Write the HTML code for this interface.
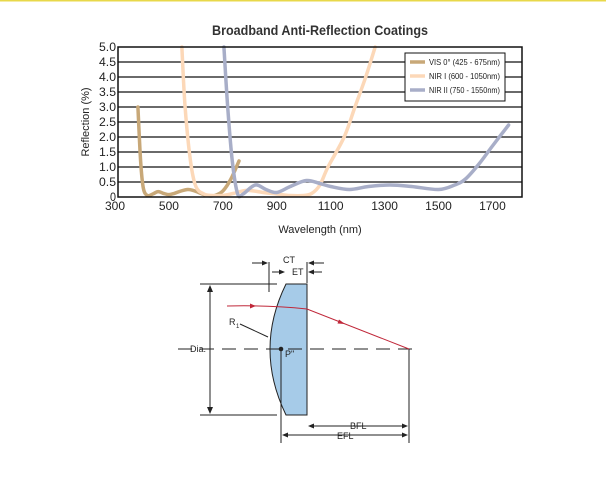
<!DOCTYPE html>
<html><head><meta charset="utf-8"><style>
html,body{margin:0;padding:0;background:#fff;width:606px;height:479px;overflow:hidden}
svg{display:block}
text{font-family:"Liberation Sans",sans-serif}
</style></head><body>
<svg id="s" width="606" height="479" viewBox="0 0 606 479" xmlns="http://www.w3.org/2000/svg">
<rect x="0" y="0" width="606" height="1.5" fill="#e8d84a"/>
<text x="212" y="35" font-size="14" font-weight="bold" fill="#333" textLength="216" lengthAdjust="spacingAndGlyphs">Broadband Anti-Reflection Coatings</text>
<g id="grid" stroke="#111" stroke-width="1.3"></g>
<g id="curves" fill="none" stroke-width="3.5" stroke-linejoin="round" stroke-linecap="round"></g>
<rect x="118" y="47" width="404" height="150" fill="none" stroke="#111" stroke-width="1.5"/>
<g id="ylab" font-size="12" fill="#222" text-anchor="end"></g>
<g id="xlab" font-size="12" fill="#222" text-anchor="middle"></g>
<text x="320" y="233" text-anchor="middle" font-size="11" fill="#222">Wavelength (nm)</text>
<text transform="translate(89,122) rotate(-90)" text-anchor="middle" font-size="11" fill="#222">Reflection (%)</text>
<rect x="405" y="53" width="100" height="48" fill="#fff" stroke="#111" stroke-width="1"/>
<line x1="410" y1="62" x2="425" y2="62" stroke="#c8a878" stroke-width="3.5"/>
<line x1="410" y1="76" x2="425" y2="76" stroke="#fcd8b8" stroke-width="3.5"/>
<line x1="410" y1="90" x2="425" y2="90" stroke="#a8aec8" stroke-width="3.5"/>
<g font-size="8.5" fill="#222"><text x="429" y="65" textLength="71" lengthAdjust="spacingAndGlyphs">VIS 0° (425 - 675nm)</text><text x="429" y="79" textLength="71" lengthAdjust="spacingAndGlyphs">NIR I (600 - 1050nm)</text><text x="429" y="93" textLength="71" lengthAdjust="spacingAndGlyphs">NIR II (750 - 1550nm)</text></g>

<path d="M286,284 L307,284 L307,415 L286,415 Q254,349 286,284 Z" fill="#a6cbe8" stroke="#222" stroke-width="1"/>
<g stroke="#222" stroke-width="1" fill="none">
<line x1="178" y1="349" x2="416" y2="349" stroke-dasharray="14,8"/>
<line x1="200" y1="284" x2="277" y2="284"/>
<line x1="200" y1="415" x2="277" y2="415"/>
<line x1="210" y1="287" x2="210" y2="412"/>
<line x1="269" y1="262" x2="269" y2="292"/>
<line x1="307" y1="262" x2="307" y2="283"/>
<line x1="281" y1="349" x2="281" y2="443"/>
<line x1="409" y1="349" x2="409" y2="443"/>
<line x1="310" y1="426" x2="406" y2="426"/>
<line x1="284" y1="435" x2="406" y2="435"/>
<line x1="252" y1="263" x2="266" y2="263"/><line x1="310" y1="263" x2="324" y2="263"/>
<line x1="272" y1="272" x2="283" y2="272"/><line x1="310" y1="272" x2="322" y2="272"/>
<line x1="240" y1="324" x2="268" y2="337"/>
</g>
<g fill="#222">
<path d="M210,285 l-3,7 h6z"/><path d="M210,414 l-3,-7 h6z"/>
<path d="M268,263 l-6,-2.5 v5z"/><path d="M308,263 l6,-2.5 v5z"/>
<path d="M285,272 l-6,-2.5 v5z"/><path d="M308,272 l6,-2.5 v5z"/>
<path d="M308,426 l6,-2.5 v5z"/><path d="M408,426 l-6,-2.5 v5z"/>
<path d="M282,435 l6,-2.5 v5z"/><path d="M408,435 l-6,-2.5 v5z"/>
<circle cx="281" cy="349" r="2.3"/>
</g>
<path d="M227,306 Q270,305 307,309 L409,349" fill="none" stroke="#c0283a" stroke-width="1"/>
<path d="M256,306 l-6,-2.5 v5z" fill="#c0283a"/><path d="M345,324 l-6,-4.5 l-1.5,4z" fill="#c0283a"/>
<g font-size="9" fill="#222">
<text x="283" y="263">CT</text><text x="292" y="275">ET</text>
<text x="229" y="325">R</text><text x="236" y="328" font-size="6">1</text>
<text x="190" y="352">Dia.</text><text x="285" y="357">P"</text>
<text x="350" y="429">BFL</text><text x="337" y="439">EFL</text>
</g>
</svg>
<script>
const X=n=>115+(n-300)*0.2696, Y=r=>197-r*30;
const g=document.getElementById('grid'), yl=document.getElementById('ylab'), xl=document.getElementById('xlab');
let h='',t='';
for(let i=1;i<=9;i++){const y=Y(i*0.5);h+=`<line x1="118" y1="${y}" x2="522" y2="${y}"/>`;}
g.innerHTML=h;
for(let i=0;i<=10;i++){const v=i*0.5;t+=`<text x="116" y="${Y(v)+4}" textLength="${i==0?6:17}" lengthAdjust="spacingAndGlyphs">${i==0?'0':v.toFixed(1)}</text>`;}
yl.innerHTML=t;t='';
for(let n=300;n<=1700;n+=200)t+=`<text x="${X(n)}" y="210">${n}</text>`;
xl.innerHTML=t;
function path(pts){const p=pts.map(a=>[X(a[0]),Y(a[1])]);let d=`M${p[0][0]},${p[0][1]}`;
for(let i=0;i<p.length-1;i++){const p0=p[i-1]||p[i],p1=p[i],p2=p[i+1],p3=p[i+2]||p2;
d+=` C${p1[0]+(p2[0]-p0[0])/6},${p1[1]+(p2[1]-p0[1])/6} ${p2[0]-(p3[0]-p1[0])/6},${p2[1]-(p3[1]-p1[1])/6} ${p2[0]},${p2[1]}`;}return d;}
const vis=[[385,3],[395,1.2],[405,0.3],[420,0.05],[440,0.1],[460,0.18],[480,0.12],[500,0.08],[520,0.12],[545,0.2],[570,0.25],[590,0.22],[610,0.15],[640,0.05],[670,0.05],[700,0.2],[730,0.6],[760,1.2]];
const n1=[[548,5],[560,3],[580,1.2],[600,0.35],[630,0.1],[660,0.05],[700,0.05],[740,0.12],[790,0.22],[850,0.15],[900,0.1],[950,0.05],[1000,0.05],[1030,0.12],[1060,0.4],[1090,1],[1150,2],[1190,3],[1230,4],[1265,5]];
const n2=[[704,5],[718,3],[735,1.2],[755,0.1],[775,0.1],[820,0.4],[860,0.25],[900,0.15],[950,0.35],[1010,0.55],[1060,0.45],[1100,0.35],[1170,0.25],[1240,0.35],[1320,0.4],[1400,0.35],[1500,0.25],[1560,0.4],[1600,0.6],[1650,1.1],[1700,1.7],[1760,2.4]];
document.getElementById('curves').innerHTML=`<path d="${path(vis)}" stroke="#c8a878"/><path d="${path(n1)}" stroke="#fcd8b8"/><path d="${path(n2)}" stroke="#a8aec8"/>`;
</script>
</body></html>
